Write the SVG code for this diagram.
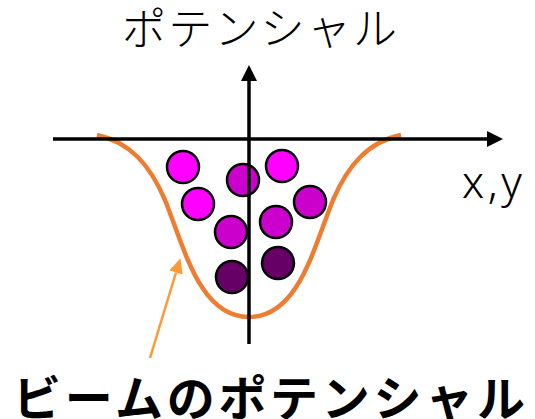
<svg xmlns="http://www.w3.org/2000/svg" width="535" height="419" viewBox="0 0 535 419">
<style>
.ball{stroke:#000;stroke-width:2.5}
.axis{stroke:#000;stroke-width:3.5;fill:none}
.jp{font-family:"Noto Sans CJK JP","Noto Sans",sans-serif;fill:#000}
</style>
<defs>
<marker id="ah" markerUnits="userSpaceOnUse" markerWidth="16" markerHeight="16" viewBox="0 0 16 16" refX="0" refY="8" orient="auto"><path d="M0,0 L16,8 L0,16 z" fill="#000"/></marker>
<marker id="oh" markerUnits="userSpaceOnUse" markerWidth="15" markerHeight="14" viewBox="0 0 15 14" refX="0" refY="7" orient="auto"><path d="M0,0 L15,7 L0,14 z" fill="#FF9933"/></marker>
</defs>
<g id="balls">
<circle class="ball" cx="183" cy="167" r="16" fill="#FF00FF"/>
<circle class="ball" cx="282" cy="166" r="16" fill="#FF00FF"/>
<circle class="ball" cx="198" cy="204" r="16" fill="#FF00FF"/>
<circle class="ball" cx="243" cy="180" r="16" fill="#CC00CC"/>
<circle class="ball" cx="310" cy="202" r="16" fill="#CC00CC"/>
<circle class="ball" cx="231" cy="232" r="16" fill="#CC00CC"/>
<circle class="ball" cx="276" cy="222" r="16" fill="#CC00CC"/>
<circle class="ball" cx="232" cy="277" r="16" fill="#660066"/>
<circle class="ball" cx="278" cy="263" r="16" fill="#660066"/>
</g>
<g id="potential">
<path d="M97,135 C130,142 150,165 165,200 C185,250 200,317 249,317 C298,317 313,250 333,200 C348,165 368,142 401,135" fill="none" stroke="#ED7D31" stroke-width="4.5"/>
</g>
<g id="connectors">
<line class="axis" x1="53" y1="139" x2="487" y2="139" marker-end="url(#ah)"/>
<line class="axis" x1="249" y1="344" x2="249" y2="81" marker-end="url(#ah)"/>
<line x1="150" y1="358" x2="176" y2="272.5" stroke="#FF9933" stroke-width="2.5" marker-end="url(#oh)"/>
</g>
<g id="labels">
<text class="jp" x="122" y="45" font-size="44" font-weight="300" textLength="275" lengthAdjust="spacing">ポテンシャル</text>
<text class="jp" x="462" y="198" font-size="44" font-weight="300" textLength="60" lengthAdjust="spacing" style="font-family:'Noto Sans',sans-serif">x,y</text>
<text class="jp" x="13" y="416" font-size="48" font-weight="bold" textLength="512" lengthAdjust="spacing">ビームのポテンシャル</text>
</g>
</svg>
